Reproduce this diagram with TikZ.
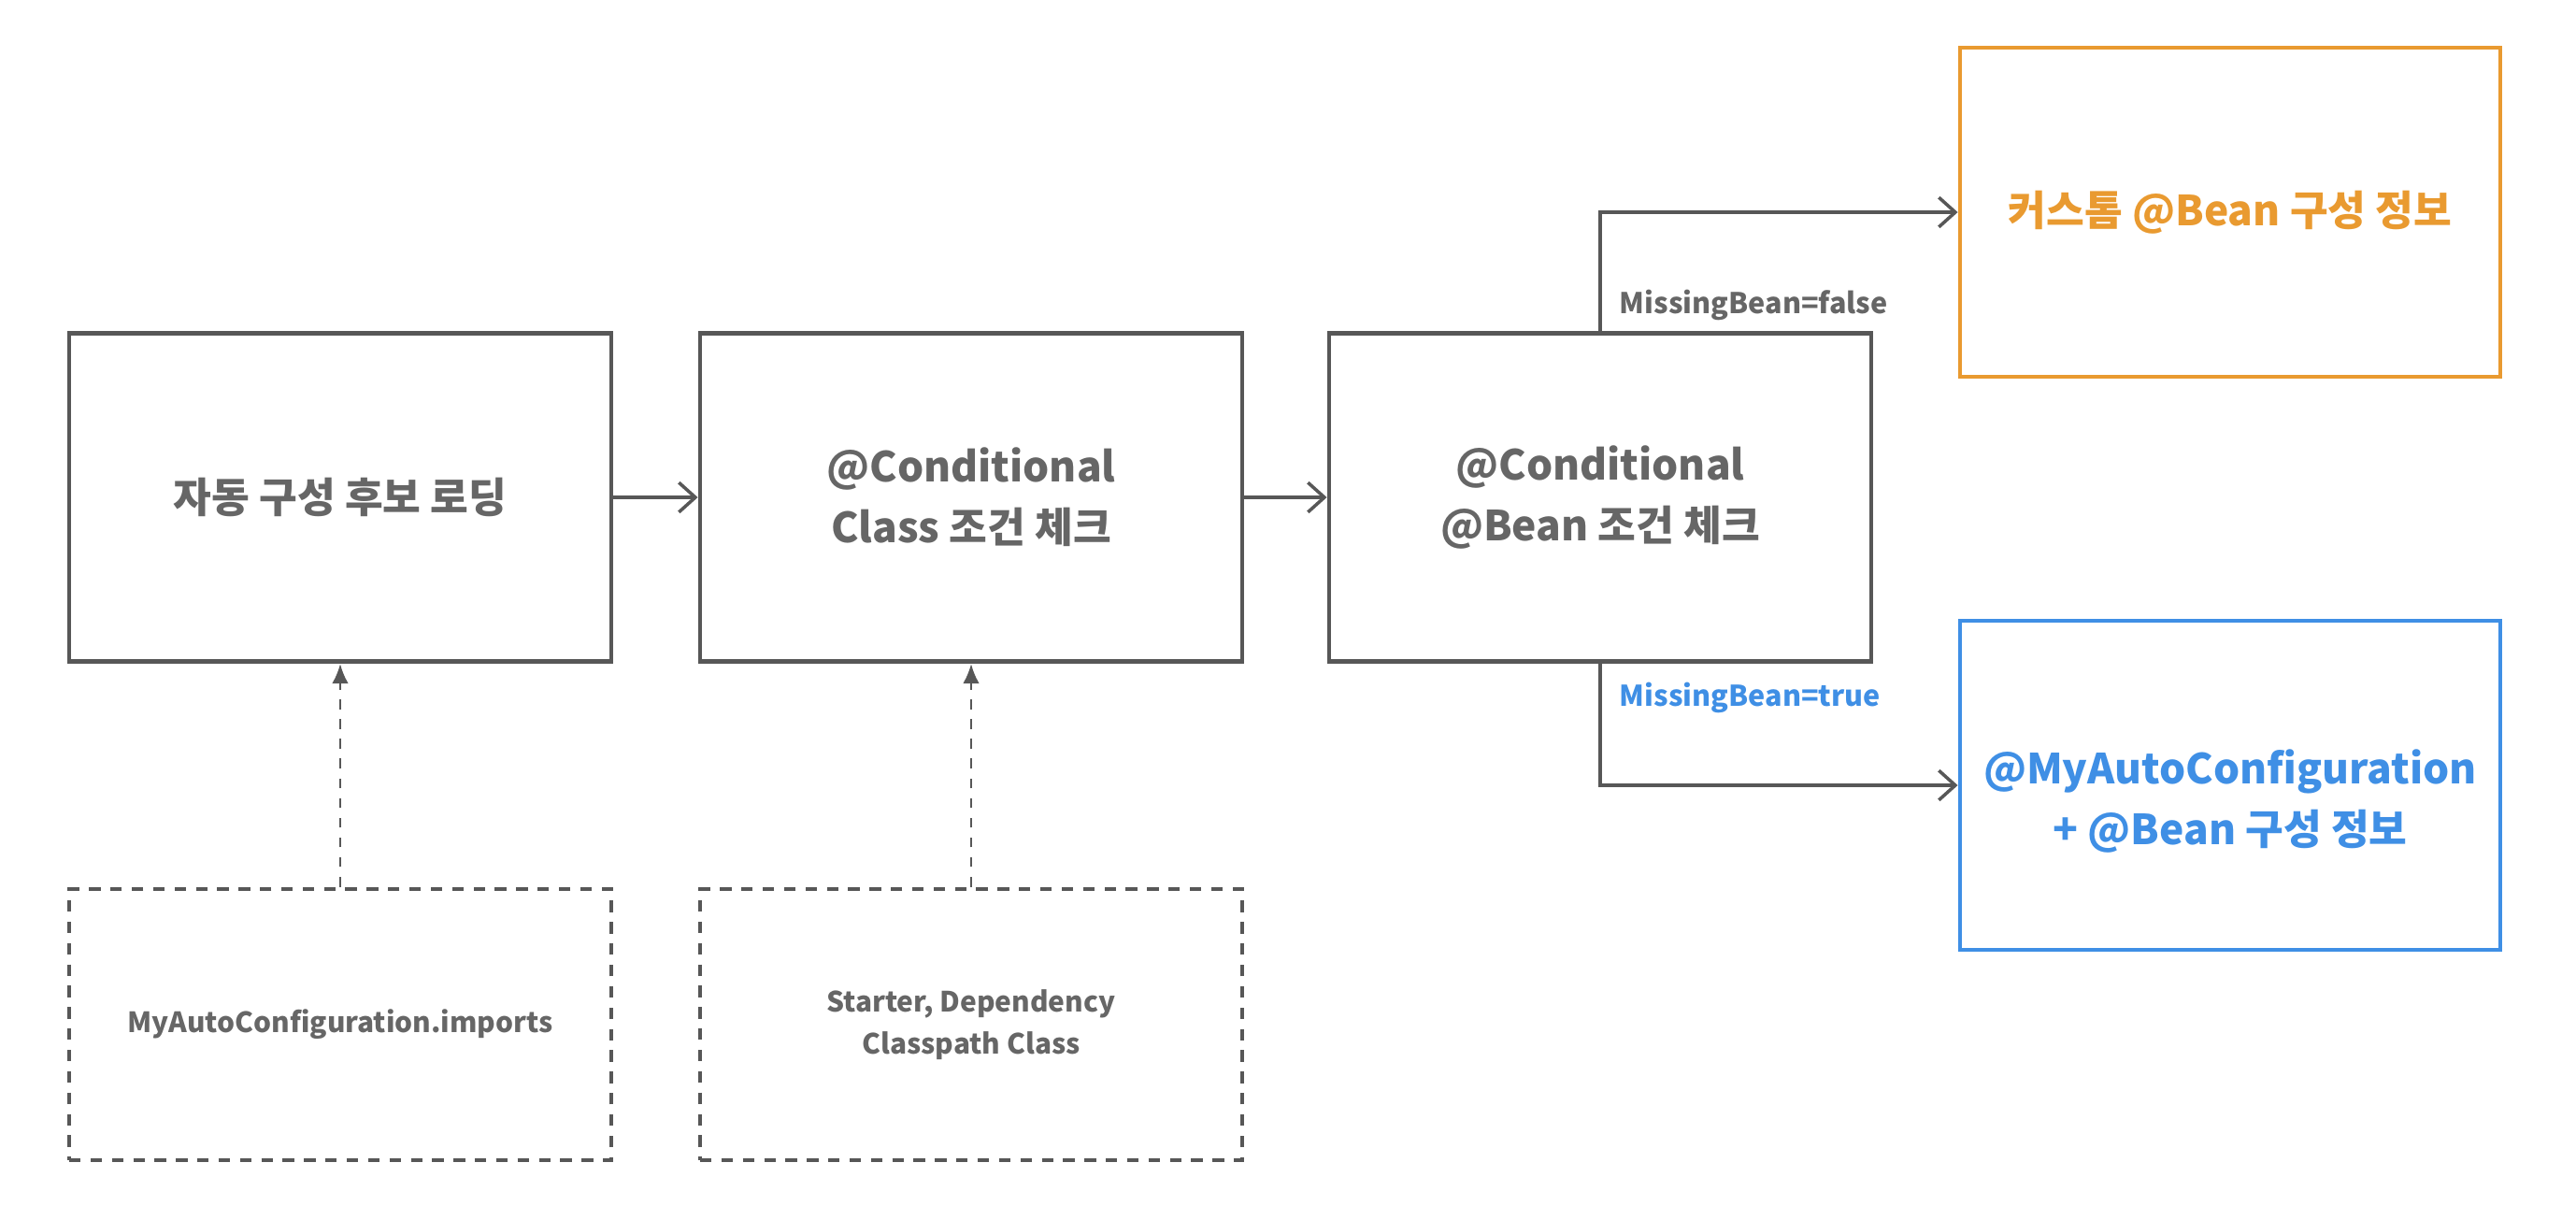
\documentclass[tikz,border=0pt]{standalone}
\usepackage{fontspec}
\setmainfont{Noto Sans CJK KR}
\usepackage{xcolor}
\usetikzlibrary{arrows.meta, positioning}

\definecolor{linegray}{HTML}{575757}
\definecolor{textgray}{HTML}{666666}
\definecolor{beanorange}{HTML}{E99A30}
\definecolor{beanblue}{HTML}{3F8FE5}

\begin{document}
\begin{tikzpicture}[
  stagebox/.style={draw=linegray, line width=1.4pt, rectangle, minimum width=5.8cm, minimum height=3.51cm, align=center, text=textgray, font=\fontsize{12.6}{18.5}\selectfont\bfseries},
  srcbox/.style={draw=linegray, line width=1.4pt, dash pattern=on 3.5pt off 3pt, rectangle, minimum width=5.8cm, minimum height=2.9cm, align=center, text=textgray, font=\fontsize{8.5}{13}\selectfont\bfseries},
  resultbox/.style={rectangle, line width=1.4pt, minimum width=5.78cm, minimum height=3.52cm, align=center, font=\fontsize{12.6}{18.5}\selectfont\bfseries},
  flow/.style={draw=linegray, line width=1pt, -{Straight Barb[length=5pt, width=9pt]}},
  feed/.style={draw=linegray, line width=0.8pt, dash pattern=on 3pt off 3pt, -{Latex[length=6pt, width=5pt]}},
  cond/.style={font=\fontsize{8.7}{11}\selectfont\bfseries, inner sep=2pt}
]
\useasboundingbox (0,0) rectangle (27.56,-13.04);

% main flow
\node[stagebox] (cand) at (3.64,-5.32) {자동 구성 후보 로딩};
\node[stagebox] (classchk) at (10.39,-5.32) {@Conditional\\Class 조건 체크};
\node[stagebox] (beanchk) at (17.12,-5.32) {@Conditional\\@Bean 조건 체크};

% results
\node[resultbox, draw=beanorange, text=beanorange] (custom) at (23.86,-2.27) {커스톰 @Bean 구성 정보};
\node[resultbox, draw=beanblue, text=beanblue] (auto) at (23.86,-8.40) {\raisebox{-0.18cm}[\height][\depth]{\begin{tabular}{@{}c@{}}@MyAutoConfiguration\\+ @Bean 구성 정보\end{tabular}}};

% sources
\node[srcbox] (imports) at (3.64,-10.96) {MyAutoConfiguration.imports};
\node[srcbox] (classpath) at (10.39,-10.96) {Starter, Dependency\\Classpath Class};

\draw[flow] (cand) -- (classchk);
\draw[flow] (classchk) -- (beanchk);
\draw[flow] (beanchk.north) |- (custom.west)
  node[cond, pos=0.11, anchor=west, xshift=0.12cm, text=textgray] {MissingBean=false};
\draw[flow] (beanchk.south) |- (auto.west)
  node[cond, pos=0.14, anchor=west, xshift=0.12cm, text=beanblue] {MissingBean=true};

\draw[feed] (imports) -- (cand);
\draw[feed] (classpath) -- (classchk);
\end{tikzpicture}
\end{document}
